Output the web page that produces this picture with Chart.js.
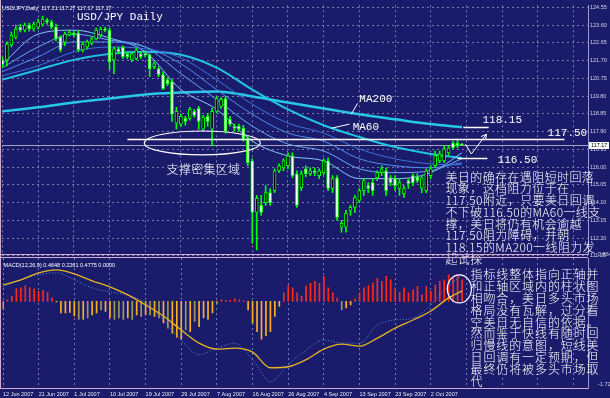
<!DOCTYPE html>
<html>
<head>
<meta charset="utf-8">
<script src="https://cdn.jsdelivr.net/npm/chart.js@4.4.1/dist/chart.umd.min.js"></script>
<style>
  html, body { margin:0; padding:0; background:#1b1b6b; }
  #wrap { position:relative; width:610px; height:398px; overflow:hidden; background:#1b1b6b; }
  #wrap canvas { position:absolute; left:0; top:0; }
</style>
</head>
<body>
<div id="wrap">
  <canvas id="priceChart" width="610" height="398"></canvas>
  <canvas id="macdChart" width="610" height="398"></canvas>
</div>
<script>
// ---------------- DATA ----------------
const dateLabels = ['12 Jun 2007','21 Jun 2007','1 Jul 2007','10 Jul 2007','19 Jul 2007','29 Jul 2007','7 Aug 2007','16 Aug 2007','26 Aug 2007','4 Sep 2007','13 Sep 2007','23 Sep 2007','2 Oct 2007'];
const priceTicks = [124.55,123.60,122.65,121.70,120.75,119.80,118.85,117.90,116.95,116.00,115.05,114.10,113.15,112.20,111.25];
const macdTicks = [0.8646,-1.7232];

const openP = [
121.74,121.74,122.54,122.96,123.49,123.33,123.60,123.39,123.49,123.65,
123.87,123.76,123.49,122.96,122.70,123.07,123.18,123.18,122.27,122.43,
122.65,122.86,123.07,123.39,123.33,121.74,122.33,122.43,122.06,121.74,
121.80,122.06,122.06,122.01,121.37,121.27,120.95,120.68,120.58,118.35,
118.30,118.61,118.61,118.98,119.14,118.03,118.72,118.03,118.98,119.25,
119.67,118.56,118.19,118.19,118.08,117.55,116.33,113.57,113.95,114.10,
114.63,114.74,115.80,115.96,116.07,116.60,115.64,114.90,115.91,115.64,
115.80,115.54,115.70,116.33,114.85,115.43,112.78,112.78,113.68,113.84,
114.21,114.74,115.01,115.17,115.43,115.70,115.80,115.43,115.38,114.85,
114.58,115.27,115.54,115.48,114.85,114.74,115.54,116.07,116.33,116.33,
116.76,117.29,117.29,117.21];
const highP = [
121.90,122.70,123.23,123.60,123.65,123.71,123.71,123.76,123.92,124.08,
123.97,123.87,123.65,123.02,123.23,123.33,123.28,123.28,122.70,122.80,
122.96,123.44,123.49,123.49,123.44,122.43,122.43,122.49,122.17,122.17,
122.38,122.17,122.17,122.06,121.64,121.37,121.11,120.79,120.68,119.20,
118.83,118.72,119.20,119.09,119.25,118.77,118.88,119.14,119.78,119.73,
119.78,118.72,118.30,118.30,118.24,117.66,116.44,114.48,114.48,115.01,
114.85,115.91,116.17,116.44,116.76,116.76,115.80,115.80,116.07,115.96,
115.96,115.91,116.44,116.49,115.54,115.54,113.15,113.68,113.95,114.48,
114.85,115.38,115.17,115.38,115.80,116.07,115.96,115.54,115.54,115.38,
115.01,115.38,115.64,115.64,115.54,115.91,116.07,116.86,116.86,117.13,
117.13,117.39,117.50,117.27];
const lowP = [
121.32,121.42,122.43,122.86,123.23,123.23,123.28,123.28,123.39,123.55,
123.65,123.39,122.75,122.17,122.49,123.02,122.96,122.17,122.17,122.33,
122.54,122.80,122.96,123.23,121.21,121.00,122.06,121.80,121.80,121.64,
121.74,121.80,121.90,120.84,121.27,120.84,120.15,120.36,118.45,118.03,
118.19,118.24,118.51,118.67,118.03,117.92,118.19,117.13,118.88,119.14,
117.82,118.19,117.92,117.92,117.39,116.07,111.93,111.56,113.41,113.95,
113.95,114.63,115.70,115.80,115.91,115.43,113.84,114.74,115.48,115.54,
115.54,115.38,115.59,114.74,114.63,113.15,112.51,112.51,113.41,113.57,
114.10,114.48,114.63,114.48,115.27,115.54,114.48,115.01,114.74,114.48,
114.37,114.85,115.01,115.17,114.63,114.63,115.38,115.96,116.23,116.23,
116.60,116.97,117.02,117.17];
const closeP = [
121.48,122.59,123.07,123.39,123.33,123.60,123.39,123.65,123.76,123.92,
123.76,123.49,122.86,122.27,123.12,123.23,123.07,122.27,122.59,122.70,
122.86,123.33,123.39,123.33,121.64,122.33,122.17,121.90,121.90,122.06,
122.27,121.90,122.01,121.27,121.53,120.95,120.20,120.47,118.83,118.98,
118.72,118.45,119.09,118.77,118.45,118.67,118.45,118.98,119.67,119.62,
117.92,118.30,118.08,118.03,117.50,116.23,113.57,114.32,113.57,114.63,
114.10,115.80,116.07,116.33,116.60,115.54,113.95,115.64,115.64,115.80,
115.70,115.80,116.33,114.85,115.38,113.31,112.99,113.52,113.84,114.37,
114.74,115.27,114.85,114.74,115.70,115.91,114.74,115.17,115.01,115.17,
114.85,115.11,115.17,115.27,115.43,115.80,115.91,116.60,116.70,116.97,
117.02,117.02,117.13,117.17];

// moving averages read at sparse bars
const maIdx = [0,8,16,24,32,40,48,56,64,72,80,88,96,103];
const maA   = [121.53,123.12,123.33,122.91,122.17,120.15,119.09,117.39,116.60,116.33,115.38,115.38,115.70,116.76];
const maB   = [121.32,122.43,123.12,122.80,122.43,121.00,119.62,118.19,117.23,116.86,115.91,115.70,115.80,116.44];
const maC   = [121.11,121.90,122.70,122.70,122.43,121.53,120.15,118.83,117.82,117.39,116.44,116.07,115.96,116.23];
const maD   = [120.89,121.42,122.17,122.43,122.33,121.85,120.68,119.36,118.35,117.82,116.97,116.44,116.17,116.12];
const ma60  = [120.68,121.21,121.74,122.06,122.17,122.01,121.32,120.15,119.09,118.24,117.61,117.07,116.70,116.49];
const ma200 = [118.98,119.20,119.46,119.67,119.89,119.99,120.05,119.78,119.46,119.14,118.83,118.56,118.30,118.14];

const keyLevels = [117.50, 118.15, 116.50];

// MACD panel
const hist = [
-0.15,0.03,0.10,0.25,0.27,0.31,0.27,0.25,0.20,0.22,
0.18,0.07,-0.01,-0.23,-0.23,-0.22,-0.29,-0.36,-0.36,-0.33,
-0.27,-0.23,-0.17,-0.20,-0.33,-0.36,-0.33,-0.36,-0.33,-0.36,
-0.27,-0.30,-0.27,-0.27,-0.30,-0.33,-0.43,-0.53,-0.63,-0.71,
-0.75,-0.56,-0.60,-0.40,-0.50,-0.33,-0.36,-0.23,-0.05,0.03,
0.02,0.02,0.05,0.03,0.01,-0.17,-0.43,-0.60,-0.75,-0.68,
-0.60,-0.30,-0.10,0.17,0.31,0.27,0.17,0.10,0.30,0.36,
0.40,0.36,0.50,0.27,0.17,0.07,-0.17,-0.13,-0.07,0.05,
0.17,0.27,0.31,0.36,0.46,0.40,0.50,0.43,0.27,0.18,
0.27,0.17,0.23,0.30,0.13,0.30,0.20,0.33,0.40,0.43,
0.53,0.46,0.51,0.43];
const lineIdx    = [0,4,8,12,16,20,24,28,32,36,40,44,48,52,56,60,64,68,72,76,80,84,88,92,96,100,103];
const signalLine = [0.33,0.43,0.57,0.63,0.55,0.41,0.29,0.13,-0.07,-0.29,-0.57,-0.83,-0.95,-0.93,-1.01,-1.32,-1.30,-1.16,-0.95,-0.85,-0.89,-0.73,-0.53,-0.37,-0.19,0.07,0.21];
const macdLine   = [0.29,0.43,0.53,0.57,0.43,0.27,0.19,0.13,-0.03,-0.37,-0.77,-1.06,-0.93,-0.83,-1.16,-1.60,-1.26,-0.97,-0.77,-0.83,-0.83,-0.47,-0.37,-0.33,-0.07,0.31,0.53];
const macdHeaderValues = [0.4648, 0.2261, 0.4775, 0.0000];

const zoneNote = '支撑密集区域';
const mainNote = ['美日的确存在遇阻短时回落','现象，这档阻力位于在','117.50附近，只要美日回调','不下破116.50的MA60一线支','撑，美日将仍有机会逾越','117.50阻力障碍，并朝','118.15的MA200一线阻力发','起试探'];
const macdNote = ['指标线整体指向正轴并','和正轴区域内的柱状图','相吻合，美日多头市场','格局没有瓦解，过分看','空美日无自信的依据。','然而鉴于快线有随时回','归慢线的意图，短线美','日回调有一定预期，但','最终仍将被多头市场取','代'];

// ---------------- STYLE / LAYOUT ----------------
const COLORS = { grid:'#7a7aac', axis:'#9a9ad0', frame:'#d6a9cf', tick:'#d4d4e4', wick:'#00ff00', bull:'#000000', bear:'#ffffff', text:'#ffffff', priceLine:'#a4a4b8' };
const CJK_FONT = '300 12px "Noto Sans CJK SC"';
const dimBars = [17,19,22,25,26,27,29,31,33,35,37,41,43,48,76];
const maStyles = [
  { data: maD,   color:'#3c74d8', width:1 },
  { data: maC,   color:'#4f8fe8', width:1 },
  { data: maB,   color:'#6aaaf0', width:1 },
  { data: maA,   color:'#88c6fa', width:1 },
  { data: ma60,  color:'#22c4e6', width:2 },
  { data: ma200, color:'#28c8e8', width:2.5 }
];
const deco = {
  levelSpans: [[28, 126], [103.3, 109], [102, 108.7]],
  levelLabelAt: [[122.2, 117.82], [107.6, 118.51], [111.0, 116.39]],
  maLabels: [
    { text:'MA200', at:[80.0, 119.62], from:[78.2, 118.83], to:[79.6, 119.41] },
    { text:'MA60',  at:[78.5, 118.14], from:[73.75, 118.08], to:[77.8, 118.30] }
  ],
  ellipse: { c:[44.8, 117.29], rx:13.0, ry:0.64 },
  zoneAt: [36.8, 115.85],
  zigzag: [[103.8, 117.23], [105.1, 116.70], [108.5, 117.76]],
  noteAt: [99.3, 115.46], noteStep: 11.7,
  macdCircle: { c:[102.4, 0.25], rx:2.7, ry:0.28 },
  macdNoteAt: [104.9, 0.53], macdNoteStep: 11.8
};

const X_MIN = -0.1, X_MAX = 131.26, GRID_STEP = 8;
const gridIdx = [];
for (let v = 0; v <= X_MAX; v += GRID_STEP) gridIdx.push(v);
const idx = closeP.map((_, i) => i);

Chart.defaults.font.family = '"Liberation Sans", Arial, sans-serif';

function xScale(showLabels) {
  return {
    type:'linear', min:X_MIN, max:X_MAX, offset:false,
    afterBuildTicks: s => { s.ticks = gridIdx.map(v => ({ value:v })); },
    afterFit: s => { s.height = showLabels ? 10 : 0; },
    ticks: { display:showLabels, autoSkip:false, maxRotation:0, minRotation:0, align:'start', padding:3,
             color:'#e6e6f0', font:{ size:5.5 }, callback: v => dateLabels[v / GRID_STEP] || '' },
    grid: { color:COLORS.grid, drawTicks:false, offset:false },
    border: { display:false, dash:[2,3] }
  };
}

function strokeLine(ctx, x1, y1, x2, y2) { ctx.beginPath(); ctx.moveTo(x1, y1); ctx.lineTo(x2, y2); ctx.stroke(); }
function drawLines(ctx, lines, x0, y0, step) {
  lines.forEach((t, k) => ctx.fillText(t, x0, y0 + k * step));
}

// ---------------- PRICE CHART ----------------
const mainDeco = {
  id:'mainDeco',
  beforeDatasetsDraw(chart) {
    const { ctx, chartArea:a, scales:{ y } } = chart;
    const py = Math.round(y.getPixelForValue(closeP[closeP.length - 1])) + 0.5;
    ctx.save(); ctx.strokeStyle = COLORS.priceLine; ctx.lineWidth = 1;
    strokeLine(ctx, a.left, py, a.right, py); ctx.restore();
  },
  afterDraw(chart) {
    const { ctx, chartArea:a, scales:{ x, y } } = chart;
    const X = v => x.getPixelForValue(v), Y = v => y.getPixelForValue(v);
    const last = closeP.length - 1;
    ctx.save();
    ctx.strokeStyle = COLORS.text; ctx.fillStyle = COLORS.text;
    ctx.textBaseline = 'middle'; ctx.textAlign = 'left';
    // header
    ctx.font = '5.5px "Liberation Sans"';
    ctx.fillText('USD/JPY,Daily  ' + [openP[last], highP[last], lowP[last], closeP[last]].map(v => v.toFixed(2)).join(' '), a.left, a.top + 3);
    ctx.font = '11px "Liberation Mono"';
    ctx.fillText('USD/JPY Daily', a.left + 75, a.top + 12);
    // key level lines
    ctx.lineWidth = 1.5;
    keyLevels.forEach((lv, k) => {
      const py = Math.round(Y(lv)) + 0.5;
      strokeLine(ctx, X(deco.levelSpans[k][0]), py, X(deco.levelSpans[k][1]), py);
      ctx.fillText(lv.toFixed(2), X(deco.levelLabelAt[k][0]), Y(deco.levelLabelAt[k][1]));
    });
    // MA labels
    ctx.lineWidth = 1;
    deco.maLabels.forEach(m => {
      strokeLine(ctx, X(m.from[0]), Y(m.from[1]), X(m.to[0]), Y(m.to[1]));
      ctx.fillText(m.text, X(m.at[0]), Y(m.at[1]));
    });
    // ellipse
    const e = deco.ellipse;
    ctx.lineWidth = 1.2;
    ctx.beginPath();
    ctx.ellipse(X(e.c[0]), Y(e.c[1]), X(e.c[0] + e.rx) - X(e.c[0]), Y(e.c[1]) - Y(e.c[1] + e.ry), 0, 0, Math.PI * 2);
    ctx.stroke();
    // zigzag arrow
    ctx.lineWidth = 1;
    ctx.beginPath();
    deco.zigzag.forEach((p, k) => k ? ctx.lineTo(X(p[0]), Y(p[1])) : ctx.moveTo(X(p[0]), Y(p[1])));
    ctx.stroke();
    const p1 = deco.zigzag[1], p2 = deco.zigzag[2];
    const ax = X(p2[0]), ay = Y(p2[1]);
    const ang = Math.atan2(ay - Y(p1[1]), ax - X(p1[0]));
    ctx.beginPath();
    ctx.moveTo(ax - 6 * Math.cos(ang - 0.5), ay - 6 * Math.sin(ang - 0.5));
    ctx.lineTo(ax, ay);
    ctx.lineTo(ax - 6 * Math.cos(ang + 0.5), ay - 6 * Math.sin(ang + 0.5));
    ctx.stroke();
    // Chinese notes
    ctx.font = CJK_FONT;
    ctx.letterSpacing = '0.3px';
    ctx.fillText(zoneNote, X(deco.zoneAt[0]), Y(deco.zoneAt[1]));
    ctx.letterSpacing = '0.4px';
    drawLines(ctx, mainNote, X(deco.noteAt[0]), Y(deco.noteAt[1]), deco.noteStep);
    ctx.letterSpacing = '0px';
    // current price box
    const cy = Y(closeP[last]);
    ctx.fillStyle = '#ffffff';
    ctx.fillRect(a.right + 1, Math.round(cy) - 3, 20, 7);
    ctx.fillStyle = '#000000';
    ctx.font = '5.5px "Liberation Sans"';
    ctx.fillText(closeP[last].toFixed(2), a.right + 3, Math.round(cy) + 0.5);
    ctx.restore();
  }
};

const maDatasets = maStyles.map(s => ({
  type:'line',
  data: maIdx.map((v, k) => ({ x:v, y:s.data[k] })),
  borderColor:s.color, borderWidth:s.width, pointRadius:0, fill:false,
  cubicInterpolationMode:'monotone', order:2
}));

const priceChart = new Chart(document.getElementById('priceChart'), {
  type:'bar',
  data: {
    labels: idx,
    datasets: [
      ...maDatasets,
      { type:'bar', data: idx.map(i => [lowP[i], highP[i]]), barThickness:1, backgroundColor:COLORS.wick,
        grouped:false, order:1 },
      { type:'bar', data: idx.map(i => [openP[i], closeP[i]]), barThickness:3, minBarLength:1,
        backgroundColor: c => (closeP[c.dataIndex] >= openP[c.dataIndex] ? COLORS.bull : COLORS.bear),
        borderColor:COLORS.wick, borderWidth:1, borderSkipped:false, grouped:false, order:0 }
    ]
  },
  options: {
    responsive:false, animation:false, devicePixelRatio:1, events:[],
    layout: { padding: { left:2, top:3, right:0, bottom:144 } },
    plugins: { legend:{ display:false }, tooltip:{ enabled:false } },
    scales: {
      x: xScale(false),
      y: {
        type:'linear', position:'right', min:111.345, max:124.661,
        afterBuildTicks: s => { s.ticks = priceTicks.map(v => ({ value:v })); },
        afterFit: s => { s.width = 22; },
        ticks: { color:COLORS.tick, font:{ size:5.5 }, padding:2, autoSkip:false, callback: v => v.toFixed(2) },
        grid: { color:COLORS.grid, drawTicks:false },
        border: { display:true, color:COLORS.axis, dash:[2,3] }
      }
    }
  },
  plugins:[mainDeco]
});

// ---------------- MACD CHART ----------------
const macdDeco = {
  id:'macdDeco',
  afterDraw(chart) {
    const { ctx, chartArea:a, scales:{ x, y } } = chart;
    const X = v => x.getPixelForValue(v), Y = v => y.getPixelForValue(v);
    const pa = priceChart.chartArea;
    ctx.save();
    ctx.strokeStyle = COLORS.frame; ctx.lineWidth = 1;
    strokeLine(ctx, 0, pa.bottom + 0.5, pa.right, pa.bottom + 0.5);
    strokeLine(ctx, 0, a.top - 0.5, a.right, a.top - 0.5);
    strokeLine(ctx, 0, a.bottom + 0.5, a.right, a.bottom + 0.5);
    strokeLine(ctx, 0.5, 0, 0.5, a.bottom);
    ctx.fillStyle = COLORS.text; ctx.strokeStyle = COLORS.text;
    ctx.textBaseline = 'middle'; ctx.textAlign = 'left';
    ctx.font = '5.5px "Liberation Sans"';
    ctx.fillText('MACD(12,26,9) ' + macdHeaderValues.map(v => v.toFixed(4)).join(' '), a.left + 1, a.top + 7);
    // circle
    const c = deco.macdCircle;
    ctx.lineWidth = 1.2;
    ctx.beginPath();
    ctx.ellipse(X(c.c[0]), Y(c.c[1]), X(c.c[0] + c.rx) - X(c.c[0]), Y(c.c[1]) - Y(c.c[1] + c.ry), 0, 0, Math.PI * 2);
    ctx.stroke();
    // note
    ctx.font = CJK_FONT;
    ctx.letterSpacing = '0.9px';
    drawLines(ctx, macdNote, X(deco.macdNoteAt[0]), Y(deco.macdNoteAt[1]), deco.macdNoteStep);
    ctx.restore();
  }
};

new Chart(document.getElementById('macdChart'), {
  type:'bar',
  data: {
    labels: idx,
    datasets: [
      { type:'line', data: lineIdx.map((v, k) => ({ x:v, y:signalLine[k] })), borderColor:'#e6b422', borderWidth:1.3,
        pointRadius:0, fill:false, cubicInterpolationMode:'monotone', order:0 },
      { type:'line', data: lineIdx.map((v, k) => ({ x:v, y:macdLine[k] })), borderColor:'#5c90e0', borderWidth:1,
        borderDash:[1,2], pointRadius:0, fill:false, cubicInterpolationMode:'monotone', order:0 },
      { type:'bar', data: hist, barThickness:1, grouped:false, order:1,
        backgroundColor: c => dimBars.includes(c.dataIndex) ? '#9c9a5a' : (hist[c.dataIndex] >= 0 ? '#ff2a1a' : '#ffb020') }
    ]
  },
  options: {
    responsive:false, animation:false, devicePixelRatio:1, events:[],
    layout: { padding: { left:2, top:258, right:0, bottom:0 } },
    plugins: { legend:{ display:false }, tooltip:{ enabled:false } },
    scales: {
      x: xScale(true),
      y: {
        type:'linear', position:'right', min:-1.7232, max:0.8646,
        afterBuildTicks: s => { s.ticks = macdTicks.map(v => ({ value:v })); },
        afterFit: s => { s.width = 22; },
        ticks: { color:COLORS.tick, font:{ size:5.5 }, padding:2, labelOffset:-4, autoSkip:false, callback: v => String(v) },
        grid: { display:false },
        border: { display:true, color:COLORS.axis }
      }
    }
  },
  plugins:[macdDeco]
});
</script>
</body>
</html>
